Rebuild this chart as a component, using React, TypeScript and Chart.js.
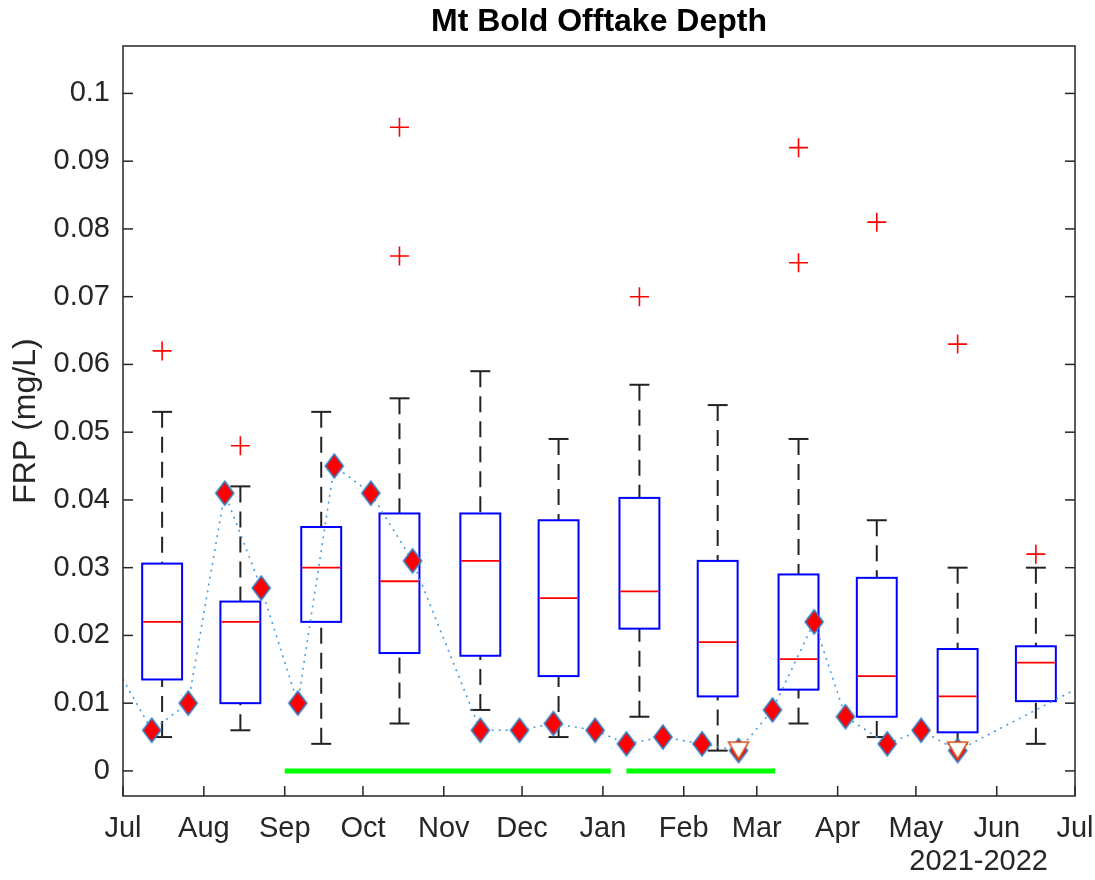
import React, { useEffect, useRef } from 'react';
import { Chart, registerables } from 'chart.js';

Chart.register(...registerables);

const FONT = '"Liberation Sans", Arial, Helvetica, sans-serif';
const TEXT_COLOR = '#262626';

const TITLE = 'Mt Bold Offtake Depth';
const Y_LABEL = 'FRP (mg/L)';
const YEAR_LABEL = '2021-2022';

// x axis: days since 1 Jul 2021
const monthTickDays = [0, 31, 62, 92, 123, 153, 184, 215, 243, 274, 304, 335, 365];
const monthTickLabels = ['Jul', 'Aug', 'Sep', 'Oct', 'Nov', 'Dec', 'Jan', 'Feb', 'Mar', 'Apr', 'May', 'Jun', 'Jul'];

const yTickValues = [0, 0.01, 0.02, 0.03, 0.04, 0.05, 0.06, 0.07, 0.08, 0.09, 0.1];
const yTickLabels = ['0', '0.01', '0.02', '0.03', '0.04', '0.05', '0.06', '0.07', '0.08', '0.09', '0.1'];

// monthly box plots (historical distribution)
const boxDays = [15, 45, 76, 106, 137, 167, 198, 228, 259, 289, 320, 350];
const boxWhiskerHigh = [0.053, 0.042, 0.053, 0.055, 0.059, 0.049, 0.057, 0.054, 0.049, 0.037, 0.030, 0.030];
const boxQ3 = [0.0306, 0.025, 0.036, 0.038, 0.038, 0.037, 0.0403, 0.031, 0.029, 0.0285, 0.018, 0.0184];
const boxMedian = [0.022, 0.022, 0.030, 0.028, 0.031, 0.0255, 0.0265, 0.019, 0.0165, 0.014, 0.011, 0.016];
const boxQ1 = [0.0135, 0.010, 0.022, 0.0174, 0.017, 0.014, 0.021, 0.011, 0.012, 0.008, 0.0057, 0.0103];
const boxWhiskerLow = [0.005, 0.006, 0.004, 0.007, 0.009, 0.005, 0.008, 0.003, 0.007, 0.005, 0.004, 0.004];

const outlierDays = [15, 45, 106, 106, 198, 259, 259, 289, 320, 350];
const outlierValues = [0.062, 0.048, 0.095, 0.076, 0.070, 0.092, 0.075, 0.081, 0.063, 0.032];

// 2021-2022 samples
const sampleDays = [-8, 11, 25, 39, 53, 67, 81, 95, 111, 137, 152, 165, 181, 193, 207, 222, 236, 249, 265, 277, 293, 306, 320, 380];
const sampleValues = [0.019, 0.006, 0.010, 0.041, 0.027, 0.010, 0.045, 0.041, 0.031, 0.006, 0.006, 0.007, 0.006, 0.004, 0.005, 0.004, 0.003, 0.009, 0.022, 0.008, 0.004, 0.006, 0.003, 0.015];

// samples below detection limit
const belowLimitDays = [236, 320];
const belowLimitValues = [0.003, 0.003];

// highlighted periods (green bars at zero)
const periodStarts = [62, 193];
const periodEnds = [187, 250];
const periodLevel = 0;

const BOX_WIDTH_DAYS = 15.3;

function makeDiamond(): HTMLCanvasElement {
  const w = 18, h = 24, pad = 2;
  const c = document.createElement('canvas');
  c.width = w + pad * 2;
  c.height = h + pad * 2;
  const g = c.getContext('2d')!;
  const cx = c.width / 2, cy = c.height / 2;
  g.beginPath();
  g.moveTo(cx, cy - h / 2);
  g.lineTo(cx + w / 2, cy);
  g.lineTo(cx, cy + h / 2);
  g.lineTo(cx - w / 2, cy);
  g.closePath();
  g.fillStyle = '#ff0000';
  g.fill();
  g.strokeStyle = '#2f80c8';
  g.lineWidth = 1.6;
  g.stroke();
  return c;
}

function makeTriangle(): HTMLCanvasElement {
  const w = 20, h = 17, pad = 2;
  const c = document.createElement('canvas');
  c.width = w + pad * 2;
  c.height = h + pad * 2;
  const g = c.getContext('2d')!;
  g.beginPath();
  g.moveTo(pad, pad);
  g.lineTo(pad + w, pad);
  g.lineTo(pad + w / 2, pad + h);
  g.closePath();
  g.fillStyle = '#ffffff';
  g.fill();
  g.strokeStyle = '#D95319';
  g.lineWidth = 1.6;
  g.stroke();
  return c;
}

export default function App() {
  const ref = useRef<HTMLCanvasElement>(null);

  useEffect(() => {
    document.body.style.margin = '0';
    const canvas = ref.current!;
    const diamond = makeDiamond();
    const tri = makeTriangle();

    const line = (ctx: CanvasRenderingContext2D, x1: number, y1: number, x2: number, y2: number) => {
      ctx.beginPath();
      ctx.moveTo(x1, y1);
      ctx.lineTo(x2, y2);
      ctx.stroke();
    };

    const boxPlugin = {
      id: 'boxes',
      beforeDatasetsDraw(chart: any) {
        const { ctx, chartArea: a, scales } = chart;
        const x = scales.x, y = scales.y;
        ctx.save();
        ctx.beginPath();
        ctx.rect(a.left, a.top, a.width, a.height);
        ctx.clip();
        boxDays.forEach((d, i) => {
          const xc = x.getPixelForValue(d);
          const xl = x.getPixelForValue(d - BOX_WIDTH_DAYS / 2);
          const xr = x.getPixelForValue(d + BOX_WIDTH_DAYS / 2);
          const cl = x.getPixelForValue(d - BOX_WIDTH_DAYS / 4);
          const cr = x.getPixelForValue(d + BOX_WIDTH_DAYS / 4);
          const yHi = y.getPixelForValue(boxWhiskerHigh[i]);
          const yQ3 = y.getPixelForValue(boxQ3[i]);
          const yMed = y.getPixelForValue(boxMedian[i]);
          const yQ1 = y.getPixelForValue(boxQ1[i]);
          const yLo = y.getPixelForValue(boxWhiskerLow[i]);
          ctx.strokeStyle = '#222222';
          ctx.lineWidth = 2;
          ctx.setLineDash([16, 9]);
          line(ctx, xc, yHi, xc, yQ3);
          line(ctx, xc, yLo, xc, yQ1);
          ctx.setLineDash([]);
          line(ctx, cl, yHi, cr, yHi);
          line(ctx, cl, yLo, cr, yLo);
          ctx.strokeStyle = '#0000ff';
          ctx.lineWidth = 2;
          ctx.strokeRect(xl, yQ3, xr - xl, yQ1 - yQ3);
          ctx.strokeStyle = '#ff0000';
          ctx.lineWidth = 1.8;
          line(ctx, xl + 1, yMed, xr - 1, yMed);
        });
        ctx.restore();
      },
      afterDraw(chart: any) {
        const { ctx, chartArea: a, scales } = chart;
        const x = scales.x, y = scales.y;
        ctx.save();
        ctx.strokeStyle = TEXT_COLOR;
        ctx.lineWidth = 1.5;
        ctx.strokeRect(a.left, a.top, a.width, a.height);
        yTickValues.forEach((v) => {
          const py = y.getPixelForValue(v);
          line(ctx, a.left, py, a.left + 10, py);
          line(ctx, a.right - 10, py, a.right, py);
        });
        monthTickDays.forEach((d) => {
          const px = x.getPixelForValue(d);
          line(ctx, px, a.bottom, px, a.bottom - 10);
        });
        // title centred over the plot area
        ctx.fillStyle = '#000000';
        ctx.font = `bold 32px ${FONT}`;
        ctx.textAlign = 'center';
        ctx.textBaseline = 'middle';
        ctx.fillText(TITLE, (a.left + a.right) / 2, a.top - 24);
        // year label under the x axis
        ctx.fillStyle = TEXT_COLOR;
        ctx.font = `29px ${FONT}`;
        ctx.textAlign = 'right';
        ctx.textBaseline = 'middle';
        ctx.fillText(YEAR_LABEL, a.right - 27, a.bottom + 66);
        ctx.restore();
      },
    };

    const inRange = (ctx: any) => {
      const raw = ctx.raw as { x: number } | undefined;
      return raw && raw.x >= 0 && raw.x <= 365 ? 10 : 0;
    };

    const chart = new Chart(canvas, {
      type: 'line',
      data: {
        datasets: [
          {
            type: 'scatter',
            label: 'below limit',
            data: belowLimitDays.map((d, i) => ({ x: d, y: belowLimitValues[i] })),
            pointStyle: tri as any,
            pointRadius: 10,
            showLine: false,
            order: 0,
          } as any,
          {
            type: 'line',
            label: 'samples',
            data: sampleDays.map((d, i) => ({ x: d, y: sampleValues[i] })),
            borderColor: '#4a9de0',
            borderWidth: 1.6,
            borderDash: [2, 5],
            pointStyle: diamond as any,
            pointRadius: inRange,
            fill: false,
            tension: 0,
            order: 1,
          } as any,
          ...periodStarts.map((s, i) => ({
            type: 'line',
            label: 'period ' + (i + 1),
            data: [
              { x: s, y: periodLevel },
              { x: periodEnds[i], y: periodLevel },
            ],
            borderColor: '#00ff00',
            borderWidth: 5,
            pointRadius: 0,
            fill: false,
            order: 2,
          })) as any[],
          {
            type: 'scatter',
            label: 'outliers',
            data: outlierDays.map((d, i) => ({ x: d, y: outlierValues[i] })),
            pointStyle: 'cross',
            pointRadius: 9.5,
            borderColor: '#ff0000',
            backgroundColor: '#ff0000',
            borderWidth: 1.6,
            showLine: false,
            order: 3,
          } as any,
        ],
      },
      options: {
        responsive: false,
        animation: false,
        devicePixelRatio: 1,
        layout: { padding: { left: 0, right: 20, top: 46, bottom: 0 } },
        plugins: {
          legend: { display: false },
          tooltip: { enabled: false },
          title: { display: false },
        },
        scales: {
          x: {
            type: 'linear',
            min: 0,
            max: 365,
            afterBuildTicks: (s: any) => {
              s.ticks = monthTickDays.map((v) => ({ value: v }));
            },
            afterFit: (s: any) => {
              s.height = 84;
              s.paddingLeft = 0;
              s.paddingRight = 0;
            },
            ticks: {
              autoSkip: false,
              maxRotation: 0,
              minRotation: 0,
              padding: 16,
              color: TEXT_COLOR,
              font: { family: FONT, size: 29 },
              callback: (_v: any, i: number) => monthTickLabels[i],
            },
            grid: { display: false, drawTicks: false },
            border: { display: false },
          },
          y: {
            type: 'linear',
            min: -0.0037,
            max: 0.107,
            afterBuildTicks: (s: any) => {
              s.ticks = yTickValues.map((v) => ({ value: v }));
            },
            afterFit: (s: any) => {
              s.width = 123;
              s.paddingTop = 0;
              s.paddingBottom = 0;
            },
            ticks: {
              padding: 13,
              color: TEXT_COLOR,
              font: { family: FONT, size: 29 },
              callback: (_v: any, i: number) => yTickLabels[i],
            },
            grid: { display: false, drawTicks: false },
            border: { display: false },
            title: {
              display: true,
              text: Y_LABEL,
              color: TEXT_COLOR,
              font: { family: FONT, size: 32, lineHeight: 1.2 },
              padding: { top: 7, bottom: 0 },
            },
          },
        },
      },
      plugins: [boxPlugin],
    } as any);

    return () => chart.destroy();
  }, []);

  return (
    <div style={{ width: 1095, height: 880, background: '#ffffff' }}>
      <canvas ref={ref} width={1095} height={880} style={{ display: 'block' }} />
    </div>
  );
}
